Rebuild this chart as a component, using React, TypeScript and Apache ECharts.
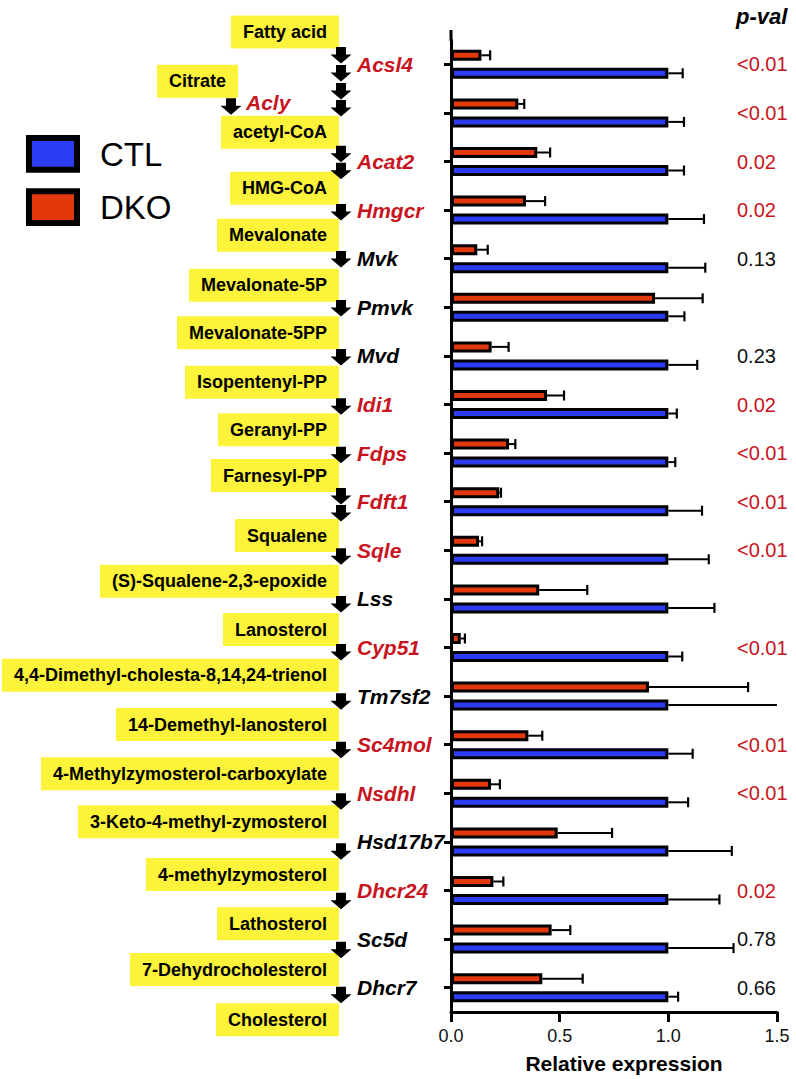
import React, { useEffect, useRef } from 'react';
import * as echarts from 'echarts';

// ---- Data ----
const genes = ['Acsl4', 'Acly', 'Acat2', 'Hmgcr', 'Mvk', 'Pmvk', 'Mvd', 'Idi1', 'Fdps', 'Fdft1', 'Sqle', 'Lss', 'Cyp51', 'Tm7sf2', 'Sc4mol', 'Nsdhl', 'Hsd17b7', 'Dhcr24', 'Sc5d', 'Dhcr7'];
const significant = [true, true, true, true, false, false, false, true, true, true, true, false, true, false, true, true, false, true, false, false];
const ctlMean = [1.0, 1.0, 1.0, 1.0, 1.0, 1.0, 1.0, 1.0, 1.0, 1.0, 1.0, 1.0, 1.0, 1.0, 1.0, 1.0, 1.0, 1.0, 1.0, 1.0];
const ctlSem = [0.066, 0.072, 0.072, 0.164, 0.17, 0.074, 0.133, 0.039, 0.032, 0.155, 0.186, 0.212, 0.064, 0.5, 0.112, 0.091, 0.292, 0.235, 0.30, 0.045];
const dkoMean = [0.14, 0.31, 0.397, 0.345, 0.121, 0.939, 0.187, 0.442, 0.267, 0.222, 0.129, 0.406, 0.045, 0.911, 0.356, 0.184, 0.491, 0.195, 0.463, 0.42];
const dkoSem = [0.04, 0.027, 0.059, 0.088, 0.048, 0.219, 0.078, 0.078, 0.029, 0.008, 0.014, 0.221, 0.019, 0.456, 0.064, 0.041, 0.25, 0.046, 0.086, 0.186];
const pValues = ['<0.01', '<0.01', '0.02', '0.02', '0.13', '', '0.23', '0.02', '<0.01', '<0.01', '<0.01', '', '<0.01', '', '<0.01', '<0.01', '', '0.02', '0.78', '0.66'];
const xTicks = [0, 0.5, 1.0, 1.5];
const seriesNames = ['CTL', 'DKO'];
const offAxisGene = 'Acly';

const metabolites = ['Fatty acid', 'Citrate', 'acetyl-CoA', 'HMG-CoA', 'Mevalonate', 'Mevalonate-5P', 'Mevalonate-5PP', 'Isopentenyl-PP', 'Geranyl-PP', 'Farnesyl-PP', 'Squalene', '(S)-Squalene-2,3-epoxide', 'Lanosterol', '4,4-Dimethyl-cholesta-8,14,24-trienol', '14-Demethyl-lanosterol', '4-Methylzymosterol-carboxylate', '3-Keto-4-methyl-zymosterol', '4-methylzymosterol', 'Lathosterol', '7-Dehydrocholesterol', 'Cholesterol'];

// ---- Layout (decorative diagram) ----
const boxRight = [339, 238, 339, 339, 339, 339, 339, 339, 339, 339, 339, 339, 339, 339, 339, 339, 339, 339, 339, 339, 339];
const boxCenterY = [32, 81.3, 132.2, 188.2, 235.3, 285.3, 332.8, 382.2, 429.7, 475.5, 535.5, 581.3, 629.5, 675.3, 724.5, 773.8, 821.7, 874.5, 923.8, 969.5, 1019.7];
const boxFont = 18;
const arrowMainX = 341;
const arrowMainTops = [47, 65, 83, 100, 145.7, 162.7, 204, 251, 300, 349, 398.3, 446.7, 488, 505, 548.3, 596, 644, 693.3, 741.7, 793.3, 843.3, 892.7, 941.7, 986.7];
const arrowSide = { x: 231, top: 98.3 };

const RED_TXT = '#c8141e';
const BLUE = '#2b3cf2';
const RED = '#e2380c';
const YELLOW = '#fcf33a';
const FONT = "'Liberation Sans', Arial, Helvetica, sans-serif";

const GRID = { left: 451, right: 19, top: 40, height: 974 };
const BAR_W = 11;
const BAR_OFF = 9;

function arrowPoints(cx: number, t: number) {
  return [
    [cx - 5, t], [cx + 5, t], [cx + 5, t + 7.5], [cx + 10.5, t + 7.5],
    [cx, t + 16.5], [cx - 10.5, t + 7.5], [cx - 5, t + 7.5],
  ];
}

function errorSeries(name: string, mean: number[], sem: number[], offset: number) {
  return {
    type: 'custom',
    name: name + ' SEM',
    z: 1,
    silent: true,
    clip: false,
    encode: { x: 0, y: 1 },
    data: mean.map((m, i) => [m, i, sem[i]]),
    renderItem: (params: any, api: any) => {
      const v = api.value(0);
      const i = api.value(1);
      const s = api.value(2);
      const end = Math.min(v + s, 1.5);
      const p0 = api.coord([v, i]);
      const p1 = api.coord([end, i]);
      const y = p0[1] + offset;
      const children: any[] = [
        { type: 'line', shape: { x1: p0[0], y1: y, x2: p1[0], y2: y }, style: { stroke: '#000', lineWidth: 2 } },
      ];
      if (v + s < 1.49) {
        children.push({ type: 'line', shape: { x1: p1[0], y1: y - 5, x2: p1[0], y2: y + 5 }, style: { stroke: '#000', lineWidth: 2.2 } });
      }
      return { type: 'group', children };
    },
  };
}

export default function App() {
  const ref = useRef<HTMLDivElement>(null);
  useEffect(() => {
    const chart = echarts.init(ref.current!, null, { renderer: 'svg' });
    const graphics: any[] = [];
    // axis extension above first band
    graphics.push({ type: 'line', shape: { x1: GRID.left, y1: 30, x2: GRID.left, y2: GRID.top + 1 }, style: { stroke: '#000', lineWidth: 3 } });
    // boxes
    metabolites.forEach((m, i) => {
      graphics.push({
        type: 'text', z: 10,
        style: {
          text: m, x: boxRight[i], y: boxCenterY[i], align: 'right', verticalAlign: 'middle',
          font: `bold ${boxFont}px ${FONT}`, fill: '#000', backgroundColor: YELLOW,
          padding: [7, 12, 7, 12], lineHeight: 19,
        },
      });
    });
    // arrows
    arrowMainTops.forEach((t) => {
      graphics.push({ type: 'polygon', z: 20, shape: { points: arrowPoints(arrowMainX, t) }, style: { fill: '#000' } });
    });
    graphics.push({ type: 'polygon', z: 20, shape: { points: arrowPoints(arrowSide.x, arrowSide.top) }, style: { fill: '#000' } });
    // Acly label near citrate arrow
    graphics.push({
      type: 'text', z: 20,
      style: { text: offAxisGene, x: 246, y: 102, align: 'left', verticalAlign: 'middle', font: `italic bold 21px ${FONT}`, fill: significant[genes.indexOf(offAxisGene)] ? RED_TXT : '#000' },
    });
    // legend
    [BLUE, RED].forEach((c, k) => {
      const top = k === 0 ? 138 : 191.3;
      graphics.push({ type: 'rect', z: 20, shape: { x: 29, y: top, width: 48, height: 31.7 }, style: { fill: c, stroke: '#000', lineWidth: 6 } });
      graphics.push({ type: 'text', z: 20, style: { text: seriesNames[k], x: 100, y: top + 16, align: 'left', verticalAlign: 'middle', font: `33px ${FONT}`, fill: '#000' } });
    });
    // p-val header
    graphics.push({ type: 'text', z: 20, style: { text: 'p-val', x: 736, y: 16, align: 'left', verticalAlign: 'middle', font: `italic bold 22px ${FONT}`, fill: '#000' } });

    const option: any = {
      animation: false,
      backgroundColor: '#fff',
      grid: { left: GRID.left, right: GRID.right, top: GRID.top, height: GRID.height, containLabel: false },
      xAxis: {
        type: 'value', min: 0, max: 1.5, interval: 0.5,
        axisLine: { show: true, lineStyle: { color: '#000', width: 3 } },
        axisTick: { show: true, length: 10, lineStyle: { color: '#000', width: 3 } },
        splitLine: { show: false },
        axisLabel: {
          margin: 15, color: '#111', fontSize: 18,
          fontFamily: "'Liberation Sans Narrow', 'Arial Narrow', 'Liberation Sans', sans-serif",
          formatter: (v: number) => (xTicks.includes(v) ? v.toFixed(1) : ''),
        },
        name: 'Relative expression', nameLocation: 'middle', nameGap: 41,
        nameTextStyle: { fontSize: 21, fontWeight: 'bold', color: '#000', fontFamily: FONT, padding: [0, 0, 0, 20] },
      },
      yAxis: {
        type: 'category', data: genes, inverse: true,
        axisLine: { show: true, lineStyle: { color: '#000', width: 3 } },
        axisTick: { show: true, alignWithLabel: true, length: 7, lineStyle: { color: '#000', width: 3 } },
        axisLabel: {
          align: 'left', margin: 94, fontSize: 21, fontWeight: 'bold', fontStyle: 'italic', fontFamily: FONT,
          formatter: (v: string) => (v === offAxisGene ? '' : v),
          color: (v: string) => (significant[genes.indexOf(v)] ? RED_TXT : '#000'),
        },
      },
      graphic: graphics,
      series: [
        {
          type: 'bar', name: 'DKO', data: dkoMean, barWidth: BAR_W, barGap: '64%', z: 3,
          itemStyle: { color: RED, borderColor: '#000', borderWidth: 3 },
        },
        {
          type: 'bar', name: 'CTL', data: ctlMean, barWidth: BAR_W, barGap: '64%', z: 3,
          itemStyle: { color: BLUE, borderColor: '#000', borderWidth: 3 },
        },
        errorSeries('DKO', dkoMean, dkoSem, -BAR_OFF),
        errorSeries('CTL', ctlMean, ctlSem, BAR_OFF),
        {
          type: 'custom', name: 'p-values', silent: true, clip: false, z: 5,
          encode: { x: 0, y: 1 },
          data: genes.map((g, i) => [1.5, i]),
          renderItem: (params: any, api: any) => {
            const i = api.value(1);
            const p = api.coord([1.5, i]);
            return {
              type: 'text',
              style: { text: pValues[i], x: p[0] - 40, y: p[1], align: 'left', verticalAlign: 'middle', font: `20px ${FONT}`, fill: significant[i] ? RED_TXT : '#111' },
            };
          },
        },
      ],
    };
    chart.setOption(option);
    return () => chart.dispose();
  }, []);
  return <div ref={ref} style={{ position: 'fixed', left: 0, top: 0, width: 796, height: 1079, background: '#fff' }} />;
}
